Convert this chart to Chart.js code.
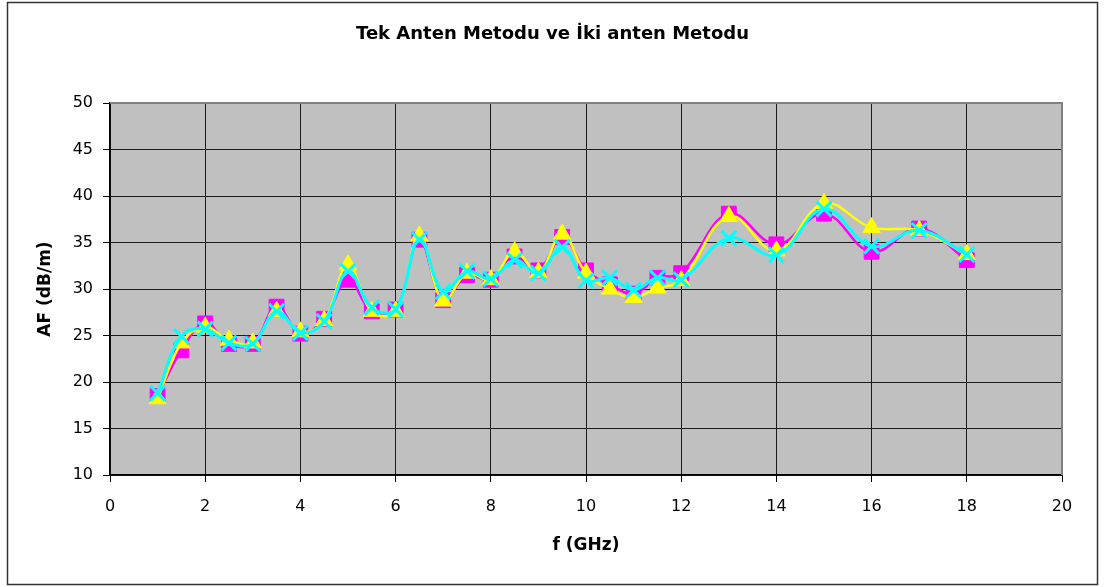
<!DOCTYPE html>
<html>
<head>
<meta charset="utf-8">
<title>Tek Anten Metodu ve İki anten Metodu</title>
<script src="https://cdn.jsdelivr.net/npm/chart.js@4/dist/chart.umd.min.js"></script>
<style>
  html, body { margin: 0; padding: 0; background: #ffffff; }
  canvas { display: block; }
</style>
</head>
<body>
<canvas id="chart" width="1105" height="587"></canvas>
<script>
// Frequencies (GHz) at which the antenna factor was measured
const freqGHz = [1, 1.5, 2, 2.5, 3, 3.5, 4, 4.5, 5, 5.5, 6, 6.5, 7, 7.5, 8, 8.5, 9, 9.5, 10, 10.5, 11, 11.5, 12, 13, 14, 15, 16, 17, 18];

// Antenna factor AF (dB/m) for the three measurement sets
const seriesA = [18.5, 23.4, 26.3, 24.1, 24.1, 28.1, 25.2, 26.8, 31.0, 27.6, 27.8, 35.3, 28.8, 31.5, 31.0, 33.5, 32.0, 35.6, 32.0, 30.5, 29.5, 31.2, 31.7, 38.1, 34.8, 38.1, 34.0, 36.5, 33.1];
const seriesB = [18.2, 24.2, 25.9, 24.5, 24.2, 27.6, 25.4, 26.6, 32.6, 27.6, 27.6, 35.7, 28.7, 31.7, 31.0, 34.0, 31.8, 35.9, 31.7, 30.0, 29.1, 30.1, 30.9, 37.8, 34.1, 39.2, 36.6, 36.3, 33.7];
const seriesC = [18.8, 24.9, 25.7, 24.2, 24.1, 27.6, 25.3, 26.5, 31.9, 28.0, 27.8, 35.3, 29.7, 31.9, 31.1, 33.1, 31.7, 34.5, 30.9, 31.2, 29.9, 31.2, 31.0, 35.45, 33.65, 38.6, 34.6, 36.3, 33.7];

// Axis ranges and tick steps
const xTicks = { min: 0, max: 20, step: 2 };
const yTicks = { min: 10, max: 50, step: 5 };

const chartTitle = 'Tek Anten Metodu ve İki anten Metodu';
const xTitle = 'f (GHz)';
const yTitle = 'AF (dB/m)';

const FONT = '"DejaVu Sans", "Liberation Sans", Arial, sans-serif';

function toPoints(values) {
  return freqGHz.map((f, i) => ({ x: f, y: values[i] }));
}

// Page frame, grey plot background and grey plot-area edges
const framePlugin = {
  id: 'frame',
  beforeDraw(chart) {
    const { ctx, chartArea: a } = chart;
    ctx.save();
    ctx.fillStyle = '#ffffff';
    ctx.fillRect(0, 0, chart.width, chart.height);
    ctx.strokeStyle = '#333333';
    ctx.lineWidth = 1.5;
    ctx.strokeRect(7.5, 2.5, 1090, 582);
    ctx.fillStyle = '#c0c0c0';
    ctx.fillRect(a.left, a.top, a.right - a.left, a.bottom - a.top);
    ctx.restore();
  },
  beforeDatasetsDraw(chart) {
    const { ctx, chartArea: a } = chart;
    ctx.save();
    ctx.strokeStyle = '#808080';
    ctx.lineWidth = 2;
    ctx.beginPath();
    ctx.moveTo(a.left, a.top);
    ctx.lineTo(a.right, a.top);
    ctx.lineTo(a.right, a.bottom);
    ctx.stroke();
    ctx.restore();
  }
};

const common = { showLine: true, tension: 0.4, fill: false };

new Chart(document.getElementById('chart'), {
  type: 'scatter',
  data: {
    datasets: [
      {
        ...common,
        label: 'A',
        data: toPoints(seriesA),
        borderColor: '#ff00ff',
        backgroundColor: '#ff00ff',
        borderWidth: 2.5,
        pointStyle: 'rect',
        pointRadius: 10.5,
        pointBorderWidth: 1,
        pointBorderColor: '#ff00ff',
        pointBackgroundColor: '#ff00ff',
        order: 2
      },
      {
        ...common,
        label: 'B',
        data: toPoints(seriesB),
        borderColor: '#ffff00',
        backgroundColor: '#ffff00',
        borderWidth: 2.5,
        pointStyle: 'triangle',
        pointRadius: 10,
        pointBorderWidth: 1,
        pointBorderColor: '#ffff00',
        pointBackgroundColor: '#ffff00',
        order: 1
      },
      {
        ...common,
        label: 'C',
        data: toPoints(seriesC),
        borderColor: '#00ffff',
        backgroundColor: '#00ffff',
        borderWidth: 3,
        pointStyle: 'crossRot',
        pointRadius: 10.5,
        pointBorderWidth: 3,
        pointBorderColor: '#00ffff',
        order: 0
      }
    ]
  },
  options: {
    responsive: false,
    animation: false,
    devicePixelRatio: 1,
    layout: { padding: { left: 8, right: 8, top: 0, bottom: 0 } },
    plugins: {
      legend: { display: false },
      tooltip: { enabled: false },
      title: {
        display: true,
        text: chartTitle,
        color: '#000000',
        font: { family: FONT, size: 18, weight: 'bold' },
        padding: { top: 24, bottom: 57.4 }
      }
    },
    scales: {
      x: {
        type: 'linear',
        min: xTicks.min,
        max: xTicks.max,
        afterFit(scale) { scale.height = 112; },
        ticks: {
          stepSize: xTicks.step,
          color: '#000000',
          font: { family: FONT, size: 16 },
          padding: 15,
          maxRotation: 0
        },
        grid: { color: '#1a1a1a', lineWidth: 1, drawTicks: true, tickLength: 7, tickColor: '#000000' },
        border: { display: true, color: '#000000', width: 1.5 },
        title: {
          display: true,
          text: xTitle,
          color: '#000000',
          font: { family: FONT, size: 17, weight: 'bold' },
          padding: { top: 0, bottom: 30.8 }
        }
      },
      y: {
        type: 'linear',
        min: yTicks.min,
        max: yTicks.max,
        afterFit(scale) { scale.width = 102; },
        ticks: {
          stepSize: yTicks.step,
          color: '#000000',
          font: { family: FONT, size: 16 },
          padding: 10
        },
        grid: { color: '#1a1a1a', lineWidth: 1, drawTicks: true, tickLength: 7, tickColor: '#000000' },
        border: { display: true, color: '#000000', width: 1.5 },
        title: {
          display: true,
          text: yTitle,
          color: '#000000',
          font: { family: FONT, size: 17, weight: 'bold' },
          padding: { top: 27.5, bottom: 0 }
        }
      },
      // empty spacer on the right so the plot ends at 20 GHz with room for its label
      spacer: {
        type: 'linear',
        position: 'right',
        display: true,
        afterFit(scale) { scale.width = 35; },
        ticks: { display: false },
        grid: { display: false, drawOnChartArea: false },
        border: { display: false }
      }
    }
  },
  plugins: [framePlugin]
});
</script>
</body>
</html>
